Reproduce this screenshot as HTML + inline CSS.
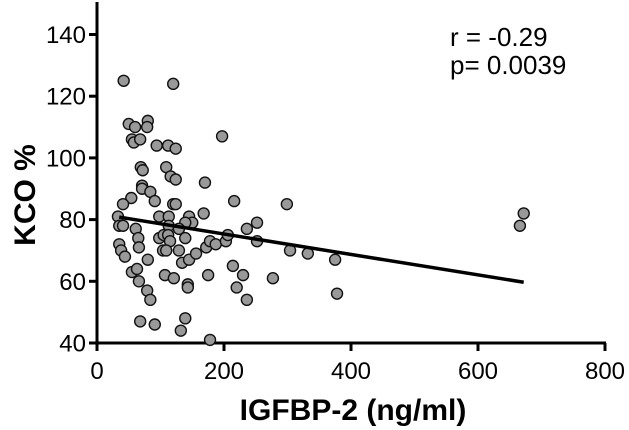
<!DOCTYPE html>
<html><head><meta charset="utf-8">
<style>
body{margin:0;background:#fff;}
svg{display:block;font-family:"Liberation Sans",Arial,sans-serif;}
</style></head>
<body>
<svg id="chart" width="629" height="430" viewBox="0 0 629 430" xmlns="http://www.w3.org/2000/svg"></svg>
<script>
const xVals=[42,120,50,60,80,79,55,58,68,94,112,124,197,69,72,109,116,124,170,71,71,84,54,91,216,41,120,124,299,
33,35,41,98,113,113,145,150,139,168,129,61,65,66,35,38,44,98,105,112,115,104,109,139,129,134,145,156,172,178,187,203,206,236,252,252,
80,55,63,66,79,84,107,121,143,143,175,214,230,220,236,277,68,91,139,132,178,304,332,375,378,672,666];
const yVals=[125,124,111,110,112,110,106,105,106,104,104,103,107,97,96,97,94,93,92,91,90,89,87,86,86,85,85,85,85,
81,78,78,81,81,78,81,79,79,82,77,77,74,71,72,70,68,74,75,75,73,70,70,74,70,66,67,69,71,73,72,73,75,77,79,73,
67,63,64,60,57,54,62,61,59,58,62,65,62,58,54,61,47,46,48,44,41,70,69,67,56,82,78];
const fitX=[35,672];
const fitY=[80.8,59.7];
const xTicks=[0,200,400,600,800];
const yTicks=[40,60,80,100,120,140];

const NS="http://www.w3.org/2000/svg";
const svg=document.getElementById('chart');
function sx(v){return 97+(v-0)*(605-97)/800;}
function sy(v){return 343-(v-40)*(343-34.5)/100;}
function mk(tag,attrs,parent){const e=document.createElementNS(NS,tag);for(const k in attrs)e.setAttribute(k,attrs[k]);(parent||svg).appendChild(e);return e;}

const axes=mk('g',{});


const xa=mk('line',{x1:97,y1:343,x2:606,y2:343,stroke:'#000','stroke-width':3},axes);


const ya=mk('line',{x1:97,y1:2,x2:97,y2:344.5,stroke:'#000','stroke-width':3},axes);


xTicks.forEach(t=>{
  const l=mk('line',{x1:sx(t),y1:343,x2:sx(t),y2:351,stroke:'#000','stroke-width':3},axes);
  
  
  const tx=mk('text',{x:sx(t),y:379,'text-anchor':'middle','font-size':24},axes);
  tx.textContent=t;
  
  
});
yTicks.forEach(t=>{
  const l=mk('line',{x1:89,y1:sy(t),x2:97,y2:sy(t),stroke:'#000','stroke-width':3},axes);
  
  
  const tx=mk('text',{x:86,y:sy(t)+8.5,'text-anchor':'end','font-size':24},axes);
  tx.textContent=t;
  
  
});
const xt=mk('text',{x:353,y:420,'text-anchor':'middle','font-size':30,'font-weight':'bold'});
xt.textContent='IGFBP-2 (ng/ml)';


const yt=mk('text',{x:0,y:0,'text-anchor':'middle','font-size':30,'font-weight':'bold',transform:'translate(35,195) rotate(-90)'});
yt.textContent='KCO %';



const pts=mk('g',{});


for(let i=0;i<xVals.length;i++){
  const c=mk('circle',{cx:sx(xVals[i]),cy:sy(yVals[i]),r:5.5,fill:'#999999',stroke:'#111','stroke-width':1.4},pts);
  
  
}
const fl=mk('line',{x1:sx(fitX[0]),y1:sy(fitY[0]),x2:sx(fitX[1]),y2:sy(fitY[1]),stroke:'#000','stroke-width':3.5});



const s1=mk('text',{x:450,y:46,'font-size':26});
s1.textContent='r = -0.29';


const s2=mk('text',{x:450,y:74,'font-size':26});
s2.textContent='p= 0.0039';


</script>
</body></html>
